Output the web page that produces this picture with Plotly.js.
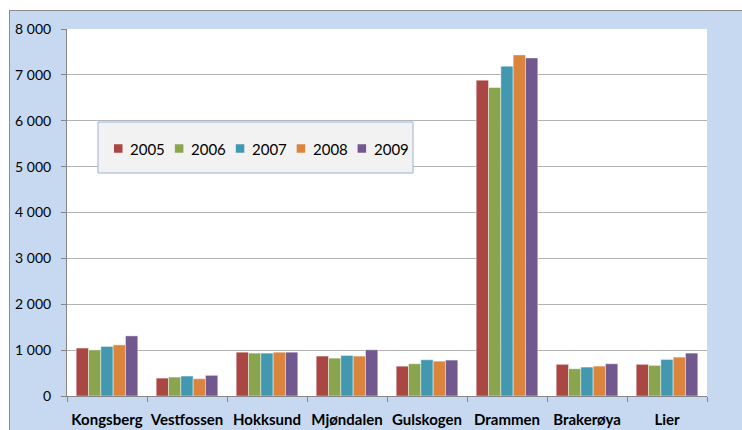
<!DOCTYPE html>
<html>
<head>
<meta charset="utf-8">
<script src="https://cdn.plot.ly/plotly-3.0.1.min.js"></script>
<style>
  html, body { margin: 0; padding: 0; background: #ffffff; width: 742px; height: 430px; overflow: hidden; }
  #frame { position: absolute; left: 9px; top: 10px; border: 1px solid #8c8c8c; width: 745px; height: 430px; overflow: hidden; background: #c6d9f0; }
  #chart { width: 740px; height: 425px; }
</style>
</head>
<body>
<div id="frame"><div id="chart"></div></div>
<script>
// Places along the x axis
const places = ["Kongsberg", "Vestfossen", "Hokksund", "Mjøndalen", "Gulskogen", "Drammen", "Brakerøya", "Lier"];

// One series per year
const years = ["2005", "2006", "2007", "2008", "2009"];
const v2005 = [1045, 390, 955, 870, 650, 6885, 690, 690];
const v2006 = [1005, 413, 935, 826, 703, 6725, 594, 667];
const v2007 = [1080, 435, 935, 884, 790, 7190, 630, 797];
const v2008 = [1115, 377, 955, 870, 760, 7435, 652, 848];
const v2009 = [1310, 450, 955, 1007, 783, 7370, 703, 935];

const yTicks = [0, 1000, 2000, 3000, 4000, 5000, 6000, 7000, 8000];

const seriesValues = [v2005, v2006, v2007, v2008, v2009];
const colors = ["#aa4643", "#89a54e", "#4198af", "#db843d", "#71588f"];
const FONT = "Lato, 'Open Sans', sans-serif";

const traces = years.map((yr, i) => ({
  type: "bar",
  name: yr,
  x: places,
  y: seriesValues[i],
  marker: { color: colors[i], line: { color: "rgba(255,255,255,0.55)", width: 0.8 } },
  hoverinfo: "x+y+name"
}));

// Plot-area geometry (pixels inside the chart div) used to place the boxed legend
const M = { l: 57, r: 43, t: 18, b: 40 };
const W = 740, H = 425;
const PW = W - M.l - M.r, PH = H - M.t - M.b;
const px = (x) => (x - M.l) / PW;          // div x pixel -> paper x
const py = (y) => (H - M.b - y) / PH;      // div y pixel -> paper y

// Boxed horizontal legend: frame, colour squares and year labels
const legLeft = 104, legStep = 60.9, legMid = 137.5, sw = 8.5;
const shapes = [{
  type: "rect", xref: "paper", yref: "paper",
  x0: px(88), x1: px(403), y0: py(162), y1: py(111),
  fillcolor: "#f2f2f2",
  line: { color: "#95b3d7", width: 1 },
  layer: "above"
}];
const annotations = [];
years.forEach((yr, i) => {
  const sx = legLeft + i * legStep;
  shapes.push({
    type: "rect", xref: "paper", yref: "paper",
    x0: px(sx), x1: px(sx + sw), y0: py(legMid + sw / 2), y1: py(legMid - sw / 2),
    fillcolor: colors[i], line: { width: 0 }, layer: "above"
  });
  annotations.push({
    xref: "paper", yref: "paper",
    x: px(sx + 14), y: py(legMid),
    xanchor: "left", yanchor: "middle",
    text: yr, showarrow: false,
    font: { family: FONT, size: 15, color: "#000000" }
  });
});

const layout = {
  width: W,
  height: H,
  margin: M,
  paper_bgcolor: "#c6d9f0",
  plot_bgcolor: "#ffffff",
  separators: ", ",
  font: { family: FONT, size: 14, color: "#000000" },
  barmode: "group",
  bargap: 0.23,
  bargroupgap: 0,
  showlegend: false,
  shapes: shapes,
  annotations: annotations,
  xaxis: {
    type: "category",
    showgrid: false,
    showline: true,
    linecolor: "#868686",
    linewidth: 1,
    ticks: "outside",
    tickson: "boundaries",
    ticklen: 5,
    tickcolor: "#868686",
    tickangle: 0,
    ticklabelstandoff: 10,
    tickfont: { family: FONT, size: 15, color: "#000000", weight: "bold" },
    fixedrange: true
  },
  yaxis: {
    range: [0, 8000],
    tickvals: yTicks,
    tickformat: ",d",
    showgrid: true,
    gridcolor: "#b3b3b3",
    gridwidth: 1,
    zeroline: false,
    showline: true,
    linecolor: "#868686",
    linewidth: 1,
    ticks: "outside",
    ticklen: 5,
    tickcolor: "#868686",
    ticklabelstandoff: 7,
    tickfont: { family: FONT, size: 14, color: "#000000" },
    fixedrange: true
  }
};

Plotly.newPlot("chart", traces, layout, { displayModeBar: false, staticPlot: true });
</script>
</body>
</html>
